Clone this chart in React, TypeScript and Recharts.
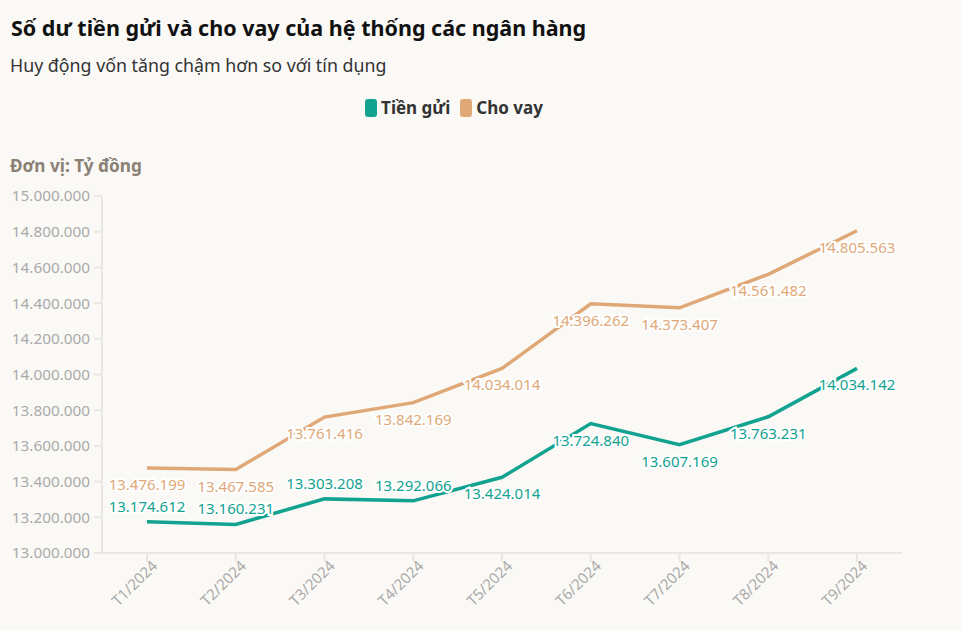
import React from "react";
import { LineChart, Line, XAxis, YAxis, LabelList } from "recharts";

const months = ["T1/2024", "T2/2024", "T3/2024", "T4/2024", "T5/2024", "T6/2024", "T7/2024", "T8/2024", "T9/2024"];
const tienGui = [13174612, 13160231, 13303208, 13292066, 13424014, 13724840, 13607169, 13763231, 14034142];
const choVay = [13476199, 13467585, 13761416, 13842169, 14034014, 14396262, 14373407, 14561482, 14805563];
const yTicks = [13000000, 13200000, 13400000, 13600000, 13800000, 14000000, 14200000, 14400000, 14600000, 14800000, 15000000];

const TEAL = "#12a290";
const TAN = "#e0a877";
const FONT = "'Noto Sans', sans-serif";

const data = months.map((m, i) => ({ month: m, gui: tienGui[i], vay: choVay[i] }));

const fmt = (v: number) => String(v).replace(/\B(?=(\d{3})+(?!\d))/g, ".");

// x tick rotated like the original
const MonthTick = ({ x, y, payload }: any) => (
  <g transform={`translate(${x},${y})`}>
    <text
      x={6}
      y={10}
      transform="rotate(-45)"
      textAnchor="end"
      fill="#aaa"
      fontSize={15}
      fontFamily={FONT}
    >
      {payload.value}
    </text>
  </g>
);

const makeLabel = (color: string, series: "gui" | "vay") => (props: any) => {
  const { x, y, value, index } = props;
  // deposits sit below the loan line only from T5 on, earlier labels go above
  const above = series === "gui" && index < 4;
  return (
    <text
      x={x}
      y={above ? y - 16 : y + 16}
      textAnchor="middle"
      dominantBaseline="central"
      fill={color}
      stroke="#fff"
      strokeWidth={4}
      paintOrder="stroke"
      fontSize={15}
      fontFamily={FONT}
    >
      {fmt(value)}
    </text>
  );
};

export default function App() {
  return (
    <div
      style={{
        position: "absolute",
        left: 0,
        top: 0,
        width: 961,
        height: 630,
        background: "#faf9f6",
        fontFamily: FONT,
        overflow: "hidden",
      }}
    >
      <div style={{ position: "absolute", left: 11, top: 13, fontSize: 21.5, fontWeight: 700, color: "#111", whiteSpace: "nowrap" }}>
        Số dư tiền gửi và cho vay của hệ thống các ngân hàng
      </div>
      <div style={{ position: "absolute", left: 10, top: 53, fontSize: 17.8, color: "#333", whiteSpace: "nowrap" }}>
        Huy động vốn tăng chậm hơn so với tín dụng
      </div>
      <div
        style={{
          position: "absolute",
          left: 0,
          top: 96,
          width: 908,
          display: "flex",
          justifyContent: "center",
          gap: 10,
          fontSize: 17,
          fontWeight: 700,
          color: "#333",
        }}
      >
        {[
          { name: "Tiền gửi", color: TEAL },
          { name: "Cho vay", color: TAN },
        ].map((e) => (
          <div key={e.name} style={{ display: "flex", alignItems: "center", gap: 4 }}>
            <div style={{ width: 12, height: 18, borderRadius: 3, background: e.color }} />
            <span>{e.name}</span>
          </div>
        ))}
      </div>
      <div style={{ position: "absolute", left: 10, top: 154, fontSize: 17.2, fontWeight: 700, color: "#8a8174", whiteSpace: "nowrap" }}>
        Đơn vị: Tỷ đồng
      </div>
      <div style={{ position: "absolute", left: 0, top: 0 }}>
        <LineChart width={961} height={630} data={data} margin={{ top: 196, right: 59, bottom: 7, left: 0 }}>
          <XAxis
            dataKey="month"
            padding={{ left: 45, right: 45 }}
            height={70}
            stroke="#e8e7e4"
            strokeWidth={2}
            tickSize={9}
            tickLine={{ stroke: "#e8e7e4", strokeWidth: 2 }}
            tick={<MonthTick />}
            interval={0}
          />
          <YAxis
            width={102}
            domain={[13000000, 15000000]}
            ticks={yTicks}
            tickFormatter={fmt}
            stroke="#e8e7e4"
            strokeWidth={2}
            tickSize={8}
            tickMargin={4}
            tickLine={{ stroke: "#e8e7e4", strokeWidth: 2 }}
            tick={{ fill: "#aaa", fontSize: 15.3, fontFamily: FONT }}
          />
          <Line type="linear" dataKey="vay" stroke={TAN} strokeWidth={3.5} dot={false} isAnimationActive={false}>
            <LabelList dataKey="vay" content={makeLabel(TAN, "vay")} />
          </Line>
          <Line type="linear" dataKey="gui" stroke={TEAL} strokeWidth={3.5} dot={false} isAnimationActive={false}>
            <LabelList dataKey="gui" content={makeLabel(TEAL, "gui")} />
          </Line>
        </LineChart>
      </div>
    </div>
  );
}
